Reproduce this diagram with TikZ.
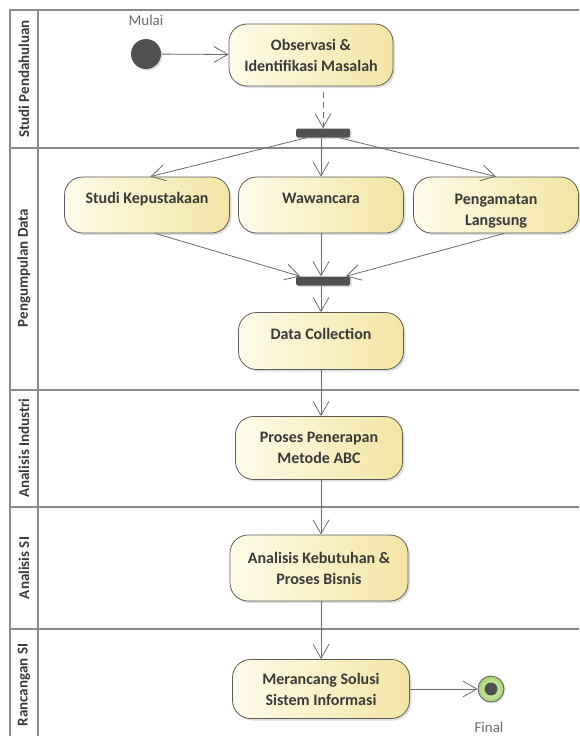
\documentclass[tikz,border=0pt]{standalone}
\usepackage{fontspec}
\setmainfont{Carlito}
\usetikzlibrary{arrows.meta,shadows,calc}
\definecolor{lanegray}{HTML}{8A8A8A}
\definecolor{edgegray}{HTML}{6A6A6A}
\definecolor{boxdraw}{HTML}{5C5C5C}
\definecolor{boxleft}{HTML}{FEFBE9}
\definecolor{boxright}{HTML}{F2E5A4}
\definecolor{darkfill}{HTML}{505050}
\definecolor{txt}{HTML}{3A3A3A}
\tikzset{
  lane/.style={draw=lanegray,line width=1.6pt},
  lanelabel/.style={rotate=90,font=\bfseries\fontsize{15}{17}\selectfont,text=txt},
  actbox/.style={draw=boxdraw,line width=0.8pt,rounded corners=18pt,left color=boxleft,right color=boxright,
    font=\bfseries\fontsize{16}{21}\selectfont,text=txt,align=center,inner sep=0pt,
    drop shadow={shadow xshift=2pt,shadow yshift=-2pt,opacity=0.25}},
  toptext/.style={text height=11pt,text depth=15pt},
  bar/.style={fill=darkfill,rounded corners=1.5pt,minimum width=54pt,minimum height=9pt,inner sep=0pt,
    drop shadow={shadow xshift=1.5pt,shadow yshift=-1.5pt,opacity=0.25}},
  flow/.style={draw=edgegray,line width=0.8pt,-{Straight Barb[length=14pt,width=16pt,line width=0.8pt]}},
  small/.style={font=\fontsize{15}{17}\selectfont,text=edgegray}
}
\begin{document}
\begin{tikzpicture}[x=1pt,y=-1pt]
\useasboundingbox (0,0) rectangle (579,736);
% swimlanes
\draw[lane] (10,736) -- (10,10) -- (579,10);
\draw[lane] (38,10) -- (38,736);
\draw[lane] (10,148) -- (579,148);
\draw[lane] (10,390) -- (579,390);
\draw[lane] (10,507) -- (579,507);
\draw[lane] (10,629) -- (579,629);
\node[lanelabel] (l1) at (24,79) {Studi Pendahuluan};
\node[lanelabel] (l2) at (24,268) {Pengumpulan Data};
\node[lanelabel] (l3) at (24,448) {Analisis Industri};
\node[lanelabel] (l4) at (24,568) {Analisis SI};
\node[lanelabel] (l5) at (24,685) {Rancangan SI};
% nodes
\node[circle,fill=darkfill,minimum size=30pt,inner sep=0pt,drop shadow={shadow xshift=1.5pt,shadow yshift=-1.5pt,opacity=0.25}] (start) at (146,54) {};
\node[small] (mulai) at (146,20) {Mulai};
\node[actbox,minimum width=164pt,minimum height=62pt] (obs) at (311,55) {Observasi \&\\Identifikasi Masalah};
\node[bar] (fork) at (323,133) {};
\node[actbox,toptext,minimum width=165pt,minimum height=56pt] (studi) at (147,205) {Studi Kepustakaan};
\node[actbox,toptext,minimum width=165pt,minimum height=56pt] (waw) at (321,205) {Wawancara};
\node[actbox,text height=45pt,text depth=5pt,minimum width=165pt,minimum height=56pt] (peng) at (496,205) {Pengamatan\\Langsung};
\node[bar] (join) at (323,281) {};
\node[actbox,toptext,minimum width=165pt,minimum height=57pt] (data) at (321,341) {Data Collection};
\node[actbox,minimum width=167pt,minimum height=63pt] (proses) at (319,448) {Proses Penerapan\\Metode ABC};
\node[actbox,minimum width=178pt,minimum height=66pt] (anal) at (319,568) {Analisis Kebutuhan \&\\Proses Bisnis};
\node[actbox,minimum width=177pt,minimum height=59pt] (meran) at (321,689) {Merancang Solusi\\Sistem Informasi};
\node[circle,draw=boxdraw,line width=0.8pt,inner color=green!15!white!90!yellow,outer color={rgb,255:red,168;green,208;blue,112},minimum size=26pt,inner sep=0pt,drop shadow={shadow xshift=1.5pt,shadow yshift=-1.5pt,opacity=0.25}] (final) at (491,689) {};
\fill[darkfill] (final.center) circle (6.5);
\node[small] (finallbl) at (489,727) {Final};
% coordinates on bars
\coordinate (f1) at ($(fork.south west)!0.2!(fork.south east)$);
\coordinate (f2) at ($(fork.south west)!0.8!(fork.south east)$);
\coordinate (j1) at ($(join.north west)!0.08!(join.north east)$);
\coordinate (j3) at ($(join.north west)!0.92!(join.north east)$);
\coordinate (s1) at ($(studi.north west)!0.52!(studi.north east)$);
\coordinate (p1) at ($(peng.north west)!0.5!(peng.north east)$);
\coordinate (s2) at ($(studi.south west)!0.55!(studi.south east)$);
\coordinate (p2) at ($(peng.south west)!0.55!(peng.south east)$);
% edges
\draw[flow] (start) -- (obs);
\draw[flow,dash pattern=on 6pt off 4pt,shorten <=6pt] (obs.south -| fork) -- (fork.north);
\draw[flow] (f1) -- (s1);
\draw[flow] (fork.south -| waw) -- (waw.north);
\draw[flow] (f2) -- (p1);
\draw[flow] (s2) -- (j1);
\draw[flow] (waw.south) -- (join.north -| waw);
\draw[flow] (p2) -- (j3);
\draw[flow] (join.south -| data) -- (data.north);
\draw[flow] (data.south) -- (proses.north -| data);
\draw[flow] (proses.south -| data) -- (anal.north -| data);
\draw[flow] (anal.south -| data) -- (meran.north -| data);
\draw[flow] (meran.east) -- (final.west);
\end{tikzpicture}
\end{document}
